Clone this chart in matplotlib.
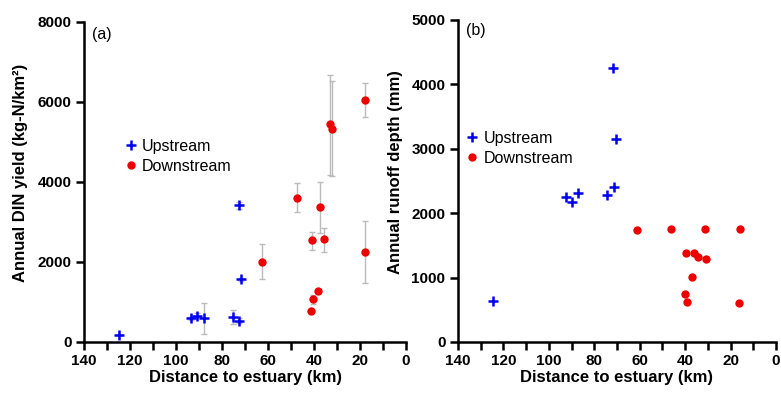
import matplotlib
matplotlib.use("Agg")
import matplotlib.pyplot as plt
from matplotlib.ticker import MultipleLocator

plt.rcParams['font.family'] = ['Liberation Sans', 'DejaVu Sans']

# Panel (a): annual DIN yield
a_up_dist = [124.8, 93.6, 91.0, 87.8, 75.3, 72.5, 72.5, 71.7]
a_up_val = [175, 590, 650, 590, 617, 533, 3417, 1567]
a_up_lo = [175, 560, 600, 200, 442, 480, 3330, 1520]
a_up_hi = [175, 620, 720, 967, 792, 590, 3500, 1610]

a_dn_dist = [62.5, 47.5, 37.4, 41.0, 35.5, 17.8, 38.4, 40.3, 41.3, 33.0, 32.2, 17.8]
a_dn_val = [2000, 3608, 3367, 2542, 2567, 2250, 1275, 1067, 767, 5450, 5333, 6042]
a_dn_lo = [1567, 3242, 2717, 2300, 2258, 1483, 1230, 960, 740, 4175, 4158, 5617]
a_dn_hi = [2442, 3967, 4008, 2758, 2858, 3033, 1320, 1170, 800, 6675, 6517, 6467]

# Panel (b): annual runoff depth
b_up_dist = [71.6, 70.6, 71.4, 74.3, 87.0, 92.6, 89.9, 124.5]
b_up_val = [4258, 3157, 2408, 2284, 2315, 2253, 2175, 641]

b_dn_dist = [61.3, 46.3, 31.2, 15.8, 39.6, 36.1, 34.2, 30.8, 36.8, 39.9, 39.0, 16.1]
b_dn_val = [1746, 1762, 1762, 1762, 1384, 1384, 1318, 1281, 1012, 749, 615, 609]

fig = plt.figure(figsize=(7.81, 3.99), dpi=100)
axa = fig.add_axes([0.1076, 0.1429, 0.4123, 0.802])
axb = fig.add_axes([0.5864, 0.1429, 0.4072, 0.807])

up_kw = dict(marker='+', color='#0000ee', markersize=6.5, markeredgewidth=1.8, linestyle='none')
dn_kw = dict(marker='o', color='#ee0000', markersize=6, markeredgewidth=0, linestyle='none')
err_kw = dict(ecolor='#bbbbbb', elinewidth=1.0, capsize=2.5, capthick=1.0, fmt='none', zorder=1)

def yerr(v, lo, hi):
    return [[max(a - b, 0) for a, b in zip(v, lo)], [max(b - a, 0) for a, b in zip(v, hi)]]

axa.errorbar(a_up_dist, a_up_val, yerr=yerr(a_up_val, a_up_lo, a_up_hi), **err_kw)
axa.errorbar(a_dn_dist, a_dn_val, yerr=yerr(a_dn_val, a_dn_lo, a_dn_hi), **err_kw)
axa.plot(a_up_dist, a_up_val, label='Upstream', zorder=3, **up_kw)
axa.plot(a_dn_dist, a_dn_val, label='Downstream', zorder=3, **dn_kw)
axa.set_ylim(0, 8000)
axa.yaxis.set_major_locator(MultipleLocator(2000))
axa.set_ylabel('Annual DIN yield (kg-N/km²)', fontsize=12, fontweight='bold')
axa.yaxis.set_label_coords(-0.175, 0.528)
axa.text(0.025, 0.985, '(a)', transform=axa.transAxes, fontsize=11.5, va='top')
axa.legend(loc='upper left', bbox_to_anchor=(0.1, 0.655), frameon=False, fontsize=11.5,
           handletextpad=0.2, handlelength=1.0, borderaxespad=0, labelspacing=0.3)

axb.plot(b_up_dist, b_up_val, label='Upstream', zorder=3, **up_kw)
axb.plot(b_dn_dist, b_dn_val, label='Downstream', zorder=3, **dn_kw)
axb.set_ylim(0, 5000)
axb.yaxis.set_major_locator(MultipleLocator(1000))
axb.set_ylabel('Annual runoff depth (mm)', fontsize=12, fontweight='bold')
axb.yaxis.set_label_coords(-0.172, 0.528)
axb.text(0.025, 0.99, '(b)', transform=axb.transAxes, fontsize=11.5, va='top')
axb.legend(loc='upper left', bbox_to_anchor=(0.0, 0.675), frameon=False, fontsize=11.5,
           handletextpad=0.2, handlelength=1.0, borderaxespad=0, labelspacing=0.3)

for ax in (axa, axb):
    ax.set_xlim(140, 0)
    ax.xaxis.set_major_locator(MultipleLocator(20))
    ax.xaxis.set_minor_locator(MultipleLocator(10))
    ax.set_xlabel('Distance to estuary (km)', fontsize=12, fontweight='bold', labelpad=1)
    for s in ('top', 'right'):
        ax.spines[s].set_visible(False)
    for s in ('left', 'bottom'):
        ax.spines[s].set_linewidth(1.8)
    ax.tick_params(which='major', length=6, width=1.8, labelsize=11, pad=3)
    ax.tick_params(which='minor', length=6, width=1.8)
    for lbl in ax.get_xticklabels() + ax.get_yticklabels():
        lbl.set_fontweight('bold')

fig.savefig('out.png', dpi=100)
